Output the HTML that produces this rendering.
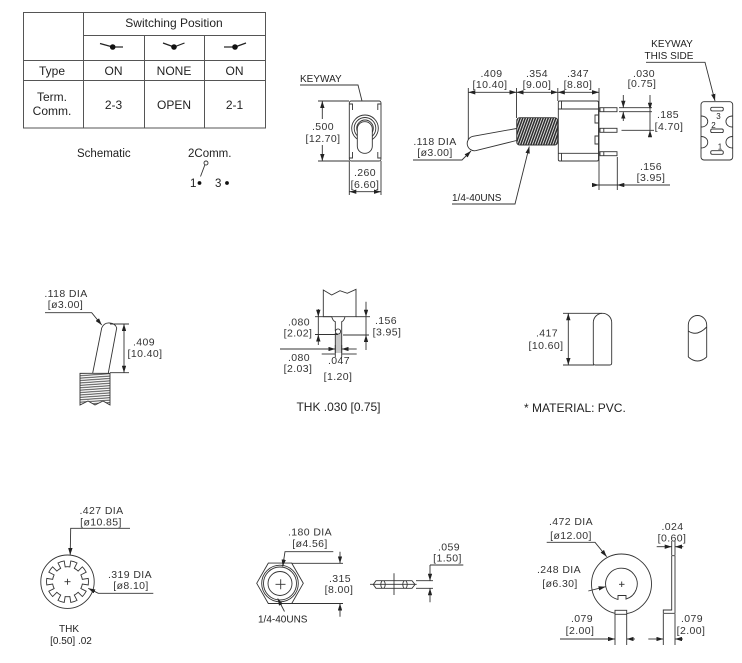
<!DOCTYPE html>
<html><head><meta charset="utf-8">
<style>
html,body{margin:0;padding:0;background:#fff;}
svg{display:block;}
.t{font-family:"Liberation Sans",sans-serif;fill:#222;}
.d{font-family:"Liberation Sans",sans-serif;font-size:10.5px;letter-spacing:0.4px;fill:#333;}
.a{font-family:"Liberation Sans",sans-serif;font-size:10px;fill:#222;}
</style></head>
<body>
<svg width="742" height="663" viewBox="0 0 742 663" xmlns="http://www.w3.org/2000/svg">
<defs>
<marker id="ar" viewBox="0 0 8 5" refX="8" refY="2.5" markerWidth="7" markerHeight="4.4" markerUnits="userSpaceOnUse" orient="auto-start-reverse"><path d="M0,0 L8,2.5 L0,5 z" fill="#222"/></marker>
<pattern id="th" width="2.4" height="20" patternUnits="userSpaceOnUse" patternTransform="rotate(20)"><rect width="2.4" height="20" fill="#fff"/><line x1="1.2" y1="0" x2="1.2" y2="20" stroke="#2a2a2a" stroke-width="1.6"/></pattern>
<pattern id="th2" width="20" height="2.4" patternUnits="userSpaceOnUse" patternTransform="rotate(-4)"><rect width="20" height="2.4" fill="#fff"/><line x1="0" y1="1.2" x2="20" y2="1.2" stroke="#444" stroke-width="1"/></pattern>
</defs>
<rect width="742" height="663" fill="#fff"/>

<!-- ================= TABLE ================= -->
<g stroke="#555" stroke-width="1" fill="none">
<rect x="23.5" y="12.5" width="242" height="115.5"/>
<line x1="83.5" y1="12.5" x2="83.5" y2="128"/>
<line x1="144.5" y1="35.5" x2="144.5" y2="128"/>
<line x1="204.5" y1="35.5" x2="204.5" y2="128"/>
<line x1="83.5" y1="35.5" x2="265.5" y2="35.5"/>
<line x1="23.5" y1="60.5" x2="265.5" y2="60.5"/>
<line x1="23.5" y1="80.5" x2="265.5" y2="80.5"/>
</g>
<g stroke="#222" stroke-width="1.2" fill="none">
<line x1="100" y1="43.5" x2="112.7" y2="47"/><line x1="112.7" y1="47" x2="123" y2="47"/>
<line x1="163" y1="43" x2="174" y2="47"/><line x1="174" y1="47" x2="184.5" y2="43"/>
<line x1="224" y1="47" x2="235" y2="47"/><line x1="235" y1="47" x2="246" y2="43"/>
</g>
<g fill="#111">
<circle cx="112.7" cy="47" r="2.8"/><circle cx="174" cy="47" r="2.8"/><circle cx="235" cy="47" r="2.8"/>
</g>
<g class="t" font-size="12" text-anchor="middle">
<text x="174" y="27">Switching Position</text>
<text x="52" y="75">Type</text><text x="113.5" y="75">ON</text><text x="174" y="75">NONE</text><text x="234.5" y="75">ON</text>
<text x="52" y="101">Term.</text><text x="52" y="115">Comm.</text>
<text x="113.5" y="109">2-3</text><text x="174" y="109">OPEN</text><text x="234.5" y="109">2-1</text>
</g>
<g class="t" font-size="11.5">
<text x="77" y="157">Schematic</text>
<text x="188" y="157">2Comm.</text>
<text x="190" y="187">1</text>
<text x="215" y="187">3</text>
</g>
<circle cx="206" cy="163" r="2" fill="none" stroke="#333" stroke-width="0.9"/>
<line x1="204.8" y1="165" x2="200.5" y2="176.5" stroke="#333" stroke-width="0.9"/>
<circle cx="199.5" cy="183" r="1.9" fill="#111"/>
<circle cx="227" cy="183" r="1.9" fill="#111"/>

<!-- ================= FRONT VIEW (KEYWAY) ================= -->
<text class="a" x="300" y="82">KEYWAY</text>
<g stroke="#333" stroke-width="0.9" fill="none">
<polyline points="300,85 358,85 366,117" marker-end="url(#ar)"/>
<rect x="349.3" y="101" width="31.7" height="60" rx="2" fill="#fff"/>
<path d="M349.3,104 H352.5 V110 M381,104 H377.8 V110 M349.3,158 H352.5 V152 M381,158 H377.8 V152"/>
<circle cx="365" cy="128.3" r="13.3"/>
<circle cx="365" cy="128.3" r="10.8"/>
<circle cx="365" cy="128.3" r="8.3"/>
<rect x="357.3" y="121.7" width="15" height="31.6" rx="7.2" fill="#fff"/>
<line x1="318" y1="101" x2="349" y2="101"/>
<line x1="318" y1="161" x2="349" y2="161"/>
<line x1="322.3" y1="119" x2="322.3" y2="101" marker-end="url(#ar)"/>
<line x1="322.3" y1="145" x2="322.3" y2="161" marker-end="url(#ar)"/>
<line x1="349.3" y1="161" x2="349.3" y2="195"/>
<line x1="381" y1="161" x2="381" y2="195"/>
<line x1="349.3" y1="191.7" x2="381" y2="191.7" marker-start="url(#ar)" marker-end="url(#ar)"/>
</g>
<g class="d" text-anchor="middle">
<text x="323" y="130">.500</text><text x="323" y="142">[12.70]</text>
<text x="365" y="176">.260</text><text x="365" y="188">[6.60]</text>
</g>

<!-- ================= SIDE VIEW ================= -->
<g stroke="#333" stroke-width="0.9" fill="none">
<line x1="468.3" y1="88" x2="468.3" y2="142"/>
<line x1="516.5" y1="88" x2="516.5" y2="118"/>
<line x1="557.8" y1="88" x2="557.8" y2="101"/>
<line x1="599" y1="88" x2="599" y2="190"/>
<line x1="468.3" y1="92.3" x2="516.5" y2="92.3" marker-start="url(#ar)" marker-end="url(#ar)"/>
<line x1="516.5" y1="92.3" x2="557.8" y2="92.3" marker-start="url(#ar)" marker-end="url(#ar)"/>
<line x1="557.8" y1="92.3" x2="599" y2="92.3" marker-start="url(#ar)" marker-end="url(#ar)"/>
<path d="M516.5,128.5 L473,136.3 A7.3,7.3 0 0 0 476,150.6 L516.5,140.5" fill="#fff"/>
<rect x="516.7" y="117.7" width="41" height="27.3" rx="3" fill="url(#th)" stroke="#333"/>
<rect x="558.3" y="101" width="40.2" height="60" rx="1.5" fill="#fff"/>
<path d="M558.3,109 H598.5 M558.3,153.3 H598.5 M561.5,101 V109 M561.5,153.3 V161"/>
<path d="M598.5,115 H595 V123 H598.5 M598.5,136 H595 V144 H598.5"/>
<rect x="600" y="107.7" width="17" height="4" fill="#fff"/>
<rect x="600" y="128.3" width="17" height="4" fill="#fff"/>
<rect x="600" y="151.7" width="17" height="4" fill="#fff"/>
<path d="M603.8,107.7 V111.7 M603.8,128.3 V132.3 M603.8,151.7 V155.7"/>
<polyline points="413,160 462,160 471,151" marker-end="url(#ar)"/>
<polyline points="452,204 515,204 529.3,146.5" marker-end="url(#ar)"/>
<line x1="619" y1="107.7" x2="652" y2="107.7"/>
<line x1="619" y1="111.7" x2="652" y2="111.7"/>
<line x1="623.3" y1="95" x2="623.3" y2="107.7" marker-end="url(#ar)"/>
<line x1="623.3" y1="121" x2="623.3" y2="111.7" marker-end="url(#ar)"/>
<line x1="621.5" y1="130.3" x2="654" y2="130.3"/>
<line x1="650" y1="95" x2="650" y2="109.7" marker-end="url(#ar)"/>
<line x1="650" y1="137" x2="650" y2="130.3" marker-end="url(#ar)"/>
<line x1="650" y1="109.7" x2="650" y2="130.3"/>
<line x1="617.3" y1="157" x2="617.3" y2="190"/>
<line x1="593" y1="185" x2="599" y2="185" marker-end="url(#ar)"/>
<line x1="599" y1="185" x2="617.3" y2="185"/>
<line x1="670" y1="185" x2="617.3" y2="185" marker-end="url(#ar)"/>
<polyline points="646,62.3 705,62.3 715,101" marker-end="url(#ar)"/>
<rect x="701" y="101.7" width="31.7" height="58.3" rx="3" fill="#fff"/>
<rect x="710.7" y="107.3" width="12.6" height="3.6" rx="1.5"/>
<rect x="710.7" y="129" width="12.6" height="3.6" rx="1.5"/>
<rect x="710.7" y="150.7" width="12.6" height="3.6" rx="1.5"/>
<path d="M701,116 C710,116 710,127 701,127 M701,136.5 C710,136.5 710,148 701,148 M732.7,116 C723.7,116 723.7,127 732.7,127 M732.7,136.5 C723.7,136.5 723.7,148 732.7,148"/>
</g>
<g class="t" font-size="8" text-anchor="middle">
<text x="718.5" y="119">3</text><text x="713.5" y="128">2</text><text x="720" y="149.5">1</text>
</g>
<g class="d" text-anchor="middle">
<text x="491.5" y="77">.409</text><text x="490" y="88">[10.40]</text>
<text x="537" y="77">.354</text><text x="537" y="88">[9.00]</text>
<text x="578" y="77">.347</text><text x="578" y="88">[8.80]</text>
<text x="644" y="77">.030</text><text x="642" y="87">[0.75]</text>
<text x="668" y="118">.185</text><text x="669" y="130">[4.70]</text>
<text x="651" y="170">.156</text><text x="651" y="181">[3.95]</text>
<text x="435" y="145">.118 DIA</text><text x="435" y="156">[ø3.00]</text>
</g>
<text class="a" x="452" y="201" font-size="10.5">1/4-40UNS</text>
<g class="a" text-anchor="middle">
<text x="672" y="47">KEYWAY</text><text x="669" y="59">THIS SIDE</text>
</g>

<!-- ================= ROW 2: LEVER ================= -->
<g stroke="#333" stroke-width="0.9" fill="none">
<polyline points="45,312.7 91.7,312.7 101.7,325" marker-end="url(#ar)"/>
<path d="M92.7,373 L101.7,328 Q104,322.5 109.5,323 Q115.5,323.5 116.7,328 L108.3,373" fill="#fff"/>
<path d="M80,373.3 H110 V405 L103,401 L95,405 L88,401 L80,405 Z" fill="url(#th2)"/>
<line x1="110" y1="324" x2="129" y2="324"/>
<line x1="110" y1="372.7" x2="129" y2="372.7"/>
<line x1="124" y1="324" x2="124" y2="372.7" marker-start="url(#ar)" marker-end="url(#ar)"/>
</g>
<g class="d" text-anchor="middle">
<text x="66" y="297">.118 DIA</text><text x="65.5" y="308">[ø3.00]</text>
<text x="144" y="345.5">.409</text><text x="145" y="357">[10.40]</text>
</g>

<!-- ================= ROW 2: TERMINAL DETAIL ================= -->
<g stroke="#333" stroke-width="0.9" fill="none">
<path d="M323.3,316.7 V290 L331.7,295 L340,290.7 L347.3,293.3 L356,289.3 V316.7 Z" fill="#fff"/>
<rect x="335.3" y="333" width="6.4" height="20" fill="#c8c8c8" stroke="none"/>
<path d="M331.7,316.7 Q333,321 335.3,321.7 V331 M345,316.7 Q344,321 341.7,321.7 V353 M335.3,333 V353"/>
<circle cx="338" cy="331.5" r="2.6" fill="#fff"/>
<line x1="315" y1="316.7" x2="332" y2="316.7"/>
<line x1="315" y1="334.5" x2="338" y2="334.5"/>
<line x1="318.3" y1="309" x2="318.3" y2="316.7" marker-end="url(#ar)"/>
<line x1="318.3" y1="316.7" x2="318.3" y2="334.5"/>
<line x1="318.3" y1="345" x2="318.3" y2="334.5" marker-end="url(#ar)"/>
<line x1="356" y1="316.7" x2="370" y2="316.7"/>
<line x1="343" y1="335" x2="369" y2="335"/>
<line x1="366" y1="301.7" x2="366" y2="316.7" marker-end="url(#ar)"/>
<line x1="366" y1="316.7" x2="366" y2="335"/>
<line x1="366" y1="350" x2="366" y2="335" marker-end="url(#ar)"/>
<line x1="335.3" y1="345" x2="335.3" y2="357"/>
<line x1="341.7" y1="345" x2="341.7" y2="357"/>
<line x1="280" y1="349" x2="335.3" y2="349" marker-end="url(#ar)"/>
<line x1="356.7" y1="349" x2="341.7" y2="349" marker-end="url(#ar)"/>
<line x1="321.7" y1="354" x2="335.3" y2="354"/>
<line x1="341.7" y1="354" x2="356.7" y2="354"/>
</g>
<g class="d" text-anchor="middle">
<text x="299" y="325.5">.080</text><text x="298" y="336.5">[2.02]</text>
<text x="386" y="324">.156</text><text x="387" y="335.5">[3.95]</text>
<text x="299" y="361">.080</text><text x="298" y="372">[2.03]</text>
<text x="339" y="364">.047</text><text x="338" y="380">[1.20]</text>
</g>
<text class="t" font-size="12" x="338.5" y="411" text-anchor="middle">THK .030 [0.75]</text>

<!-- ================= ROW 2: CAP ================= -->
<g stroke="#333" stroke-width="0.9" fill="none">
<path d="M593.3,363 V322.5 A9.2,9.2 0 0 1 611.7,322.5 V363 Q611.7,365 609.7,365 H595.3 Q593.3,365 593.3,363 Z" fill="#fff"/>
<line x1="563" y1="313.3" x2="602" y2="313.3"/>
<line x1="563" y1="365" x2="594" y2="365"/>
<line x1="568.3" y1="313.3" x2="568.3" y2="365" marker-start="url(#ar)" marker-end="url(#ar)"/>
<path d="M688.3,357 V325 A9.2,9.5 0 0 1 706.7,325 V357"/>
<path d="M688.3,331 Q697,337 706.7,327"/>
<path d="M688.3,357 Q697.5,365 706.7,357"/>
</g>
<g class="d" text-anchor="middle">
<text x="547" y="336.5">.417</text><text x="546" y="349">[10.60]</text>
</g>
<text class="t" font-size="12" x="524" y="412">* MATERIAL: PVC.</text>

<!-- ================= ROW 3: LOCK WASHER ================= -->
<g stroke="#333" stroke-width="0.9" fill="none">
<circle cx="67.5" cy="581.7" r="26.7"/>
<path transform="translate(67.5,581.7)" d="M20.74,-3.28 A21,21 0 0 1 20.74,3.28 L14.82,2.35 A15,15 0 0 1 13.37,6.81 L18.71,9.53 A21,21 0 0 1 14.85,14.85 L10.61,10.61 A15,15 0 0 1 6.81,13.37 L9.53,18.71 A21,21 0 0 1 3.28,20.74 L2.35,14.82 A15,15 0 0 1 -2.35,14.82 L-3.28,20.74 A21,21 0 0 1 -9.53,18.71 L-6.81,13.37 A15,15 0 0 1 -10.61,10.61 L-14.85,14.85 A21,21 0 0 1 -18.71,9.53 L-13.37,6.81 A15,15 0 0 1 -14.82,2.35 L-20.74,3.28 A21,21 0 0 1 -20.74,-3.28 L-14.82,-2.35 A15,15 0 0 1 -13.37,-6.81 L-18.71,-9.53 A21,21 0 0 1 -14.85,-14.85 L-10.61,-10.61 A15,15 0 0 1 -6.81,-13.37 L-9.53,-18.71 A21,21 0 0 1 -3.28,-20.74 L-2.35,-14.82 A15,15 0 0 1 2.35,-14.82 L3.28,-20.74 A21,21 0 0 1 9.53,-18.71 L6.81,-13.37 A15,15 0 0 1 10.61,-10.61 L14.85,-14.85 A21,21 0 0 1 18.71,-9.53 L13.37,-6.81 A15,15 0 0 1 14.82,-2.35 Z"/>
<path d="M64.5,581.7 H70.5 M67.5,578.7 V584.7"/>
<polyline points="130,528.3 70.7,528.3 70.2,555" marker-end="url(#ar)"/>
<polyline points="153.3,593.3 98.3,593.3 88.3,588.3" marker-end="url(#ar)"/>
</g>
<g class="d" text-anchor="middle">
<text x="101.5" y="514">.427 DIA</text><text x="101" y="525.5">[ø10.85]</text>
<text x="130" y="578">.319 DIA</text><text x="131" y="589">[ø8.10]</text>
</g>
<g class="a" text-anchor="middle">
<text x="69" y="632">THK</text><text x="71" y="644">[0.50] .02</text>
</g>

<!-- ================= ROW 3: HEX NUT ================= -->
<g stroke="#333" stroke-width="0.9" fill="none">
<polygon points="256.7,583.3 268.3,563.1 291.7,563.1 303.3,583.3 291.7,603.5 268.3,603.5" fill="#fff"/>
<circle cx="280" cy="583.5" r="18.3"/>
<circle cx="280" cy="583.5" r="16.5"/>
<circle cx="280" cy="583.5" r="12"/>
<path d="M275.5,584.3 H285.5 M280.7,579.3 V589.3"/>
<polyline points="333.3,551.7 285,551.7 282.7,566.5" marker-end="url(#ar)"/>
<line x1="291.7" y1="563.3" x2="343" y2="563.3"/>
<line x1="291.7" y1="603.5" x2="343" y2="603.5"/>
<line x1="340" y1="551.7" x2="340" y2="563.3" marker-end="url(#ar)"/>
<line x1="340" y1="616.7" x2="340" y2="603.5" marker-end="url(#ar)"/>
<line x1="284.5" y1="611.5" x2="277.7" y2="598.5" marker-end="url(#ar)"/>
<path d="M376,580.7 H412 L415,584.5 L412,588.3 H376 L373.3,584.5 Z" fill="#fff"/>
<path d="M382,580.7 Q379.5,584.5 382,588.3 M406,580.7 Q408.5,584.5 406,588.3 M384,580.7 Q386.5,584.5 384,588.3 M404,580.7 Q401.5,584.5 404,588.3"/>
<line x1="394" y1="573.3" x2="394" y2="595"/>
<line x1="370" y1="584.3" x2="416.7" y2="584.3"/>
<line x1="416" y1="580.7" x2="433" y2="580.7"/>
<line x1="416" y1="588.3" x2="433" y2="588.3"/>
<line x1="430" y1="565" x2="463.3" y2="565"/>
<line x1="430" y1="565" x2="430" y2="580.7" marker-end="url(#ar)"/>
<line x1="430" y1="602.3" x2="430" y2="588.3" marker-end="url(#ar)"/>
</g>
<g class="d" text-anchor="middle">
<text x="310" y="535.5">.180 DIA</text><text x="310" y="547">[ø4.56]</text>
<text x="340" y="582">.315</text><text x="339" y="593">[8.00]</text>
<text x="449" y="550.5">.059</text><text x="447.5" y="561.5">[1.50]</text>
</g>
<text class="a" x="258" y="622.5" font-size="10.5">1/4-40UNS</text>

<!-- ================= ROW 3: FLAT WASHER ================= -->
<g stroke="#333" stroke-width="0.9" fill="none">
<circle cx="621.5" cy="584" r="30"/>
<path d="M618,599.4 V595.5 H626 V599.1 A15.8,15.8 0 1 0 618,599.4 Z"/>
<rect x="615" y="610.3" width="11.7" height="4" fill="#fff"/>
<path d="M619,584.3 H624.5 M621.7,581.5 V587"/>
<polyline points="546.7,542.3 595,542.3 606.7,556.7" marker-end="url(#ar)"/>
<line x1="588.3" y1="591" x2="605.5" y2="586.7" marker-end="url(#ar)"/>
<line x1="615" y1="614.5" x2="615" y2="645"/>
<line x1="626.7" y1="614.5" x2="626.7" y2="645"/>
<line x1="560" y1="639" x2="615" y2="639" marker-end="url(#ar)"/>
<line x1="635" y1="639" x2="626.7" y2="639" marker-end="url(#ar)"/>
<path d="M671.7,555.7 H675 V613.3 H663.3 V610 H671.7 Z" fill="#fff"/>
<line x1="671.7" y1="541" x2="671.7" y2="555"/>
<line x1="675" y1="541" x2="675" y2="555"/>
<line x1="656.7" y1="546.7" x2="671.7" y2="546.7" marker-end="url(#ar)"/>
<line x1="683.3" y1="546.7" x2="675" y2="546.7" marker-end="url(#ar)"/>
<line x1="663.3" y1="614" x2="663.3" y2="645"/>
<line x1="675" y1="614" x2="675" y2="645"/>
<line x1="648.3" y1="639" x2="663.3" y2="639" marker-end="url(#ar)"/>
<line x1="683" y1="639" x2="675" y2="639" marker-end="url(#ar)"/>
</g>
<g class="d" text-anchor="middle">
<text x="571" y="525">.472 DIA</text><text x="571" y="539">[ø12.00]</text>
<text x="559" y="573">.248 DIA</text><text x="560" y="587">[ø6.30]</text>
<text x="582" y="622">.079</text><text x="580" y="634">[2.00]</text>
<text x="672.5" y="530">.024</text><text x="672" y="541.5">[0.60]</text>
<text x="692" y="622">.079</text><text x="691" y="634">[2.00]</text>
</g>
</svg>
</body></html>
